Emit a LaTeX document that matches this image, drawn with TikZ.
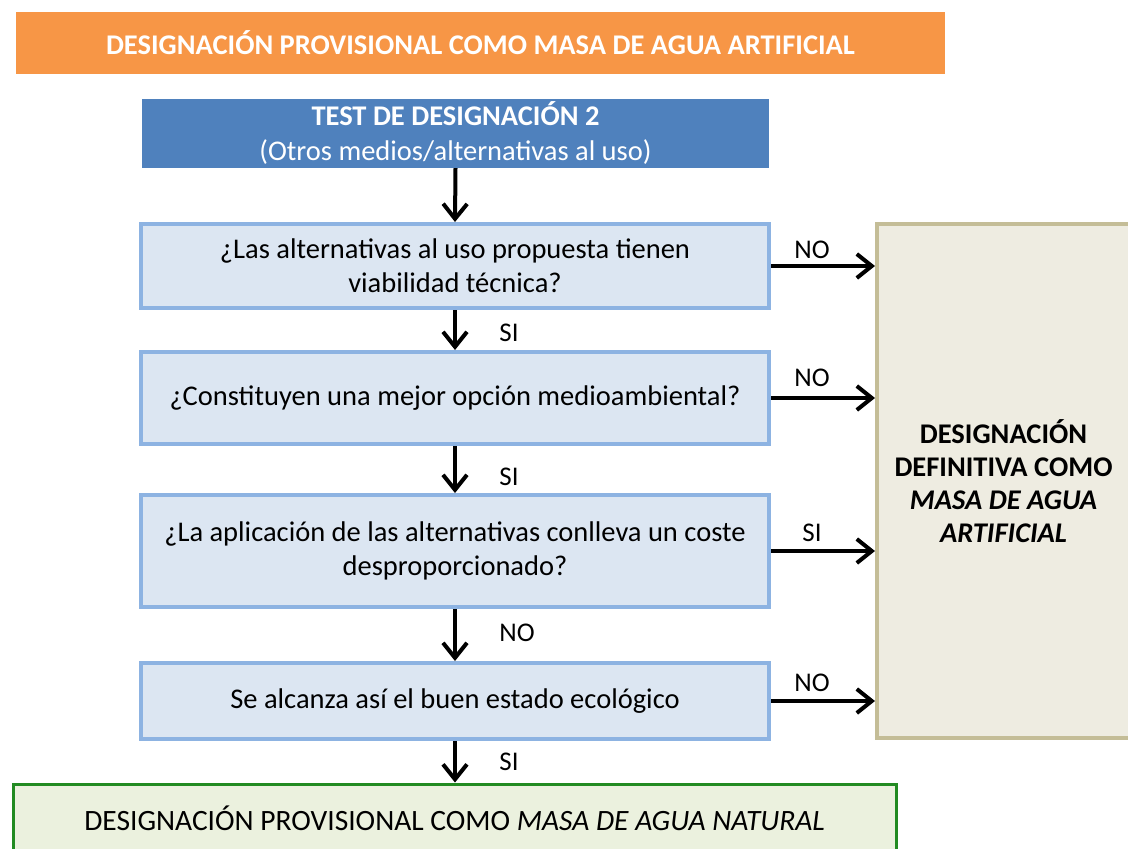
\documentclass[tikz,border=0pt]{standalone}
\usepackage{fontspec}
\setmainfont{Carlito}
\usetikzlibrary{arrows.meta}
\definecolor{orangeF}{HTML}{F79646}
\definecolor{blueF}{HTML}{4F81BD}
\definecolor{qFill}{HTML}{DCE6F2}
\definecolor{qLine}{HTML}{8DB3E2}
\definecolor{rFill}{HTML}{EEECE1}
\definecolor{rLine}{HTML}{C4BD97}
\definecolor{gFill}{HTML}{EBF1DE}
\definecolor{gLine}{HTML}{228B22}
\tikzset{
  qbox/.style={draw=qLine, fill=qFill, line width=4pt, minimum width=628pt, align=center, font=\fontsize{28.5}{34}\selectfont, inner sep=0pt},
  lbl/.style={font=\fontsize{27}{30}\selectfont, inner sep=0pt},
  arr/.style={line width=4pt, -{Straight Barb[length=15pt,width=24pt,line width=4pt]}},
}
\begin{document}
\begin{tikzpicture}[x=1pt,y=-1pt]
\useasboundingbox (0,0) rectangle (1128,849);
\begin{scope}
\clip (0,0) rectangle (1128,849);
\node[fill=orangeF, minimum width=929pt, minimum height=62pt, inner sep=0pt, text=white, font=\bfseries\fontsize{28.5}{30}\selectfont] (title) at (480.5,43) {DESIGNACIÓN PROVISIONAL COMO MASA DE AGUA ARTIFICIAL};
\node[fill=blueF, minimum width=627pt, minimum height=69pt, inner sep=0pt, text=white, align=center, font=\fontsize{28.5}{35}\selectfont] (test) at (455.5,133.5) {\textbf{TEST DE DESIGNACIÓN 2}\\(Otros medios/alternativas al uso)};
\node[qbox, minimum height=84pt] (q1) at (455,266) {¿Las alternativas al uso propuesta tienen\\viabilidad técnica?};
\node[qbox, minimum height=92pt] (q2) at (455,398) {¿Constituyen una mejor opción medioambiental?};
\node[qbox, minimum height=112pt] (q3) at (455,551) {¿La aplicación de las alternativas conlleva un coste\\desproporcionado?};
\node[qbox, minimum height=76pt] (q4) at (455,701) {Se alcanza así el buen estado ecológico};
\node[draw=gLine, fill=gFill, line width=3pt, minimum width=883pt, minimum height=68pt, inner sep=0pt, font=\fontsize{29.5}{30}\selectfont] (nat) at (454.5,818) {DESIGNACIÓN PROVISIONAL COMO \textit{MASA DE AGUA NATURAL}};
\node[draw=rLine, fill=rFill, line width=4pt, minimum width=253pt, minimum height=514pt, inner sep=0pt, align=center, font=\bfseries\fontsize{28.5}{33}\selectfont] (art) at (1003.5,481) {DESIGNACIÓN\\DEFINITIVA COMO\\\textit{MASA DE AGUA}\\\textit{ARTIFICIAL}};
\end{scope}
\draw[arr] (test.south) -- (q1.north);
\draw[arr] (q1.south) -- (q2.north);
\draw[arr] (q2.south) -- (q3.north);
\draw[arr] (q3.south) -- (q4.north);
\draw[arr] (q4.south) -- (nat.north -| q4.south);
\draw[arr] (q1.east) -- (art.west |- q1.east);
\draw[arr] (q2.east) -- (art.west |- q2.east);
\draw[arr] (q3.east) -- (art.west |- q3.east);
\draw[arr] (q4.east) -- (art.west |- q4.east);
\node[lbl] (s1) at (509,333) {SI};
\node[lbl] (s2) at (509,477) {SI};
\node[lbl] (s3) at (517,633) {NO};
\node[lbl] (s4) at (509,762) {SI};
\node[lbl] (n1) at (812,250) {NO};
\node[lbl] (n2) at (812,378) {NO};
\node[lbl] (n3) at (812,533) {SI};
\node[lbl] (n4) at (812,683) {NO};
\end{tikzpicture}
\end{document}
